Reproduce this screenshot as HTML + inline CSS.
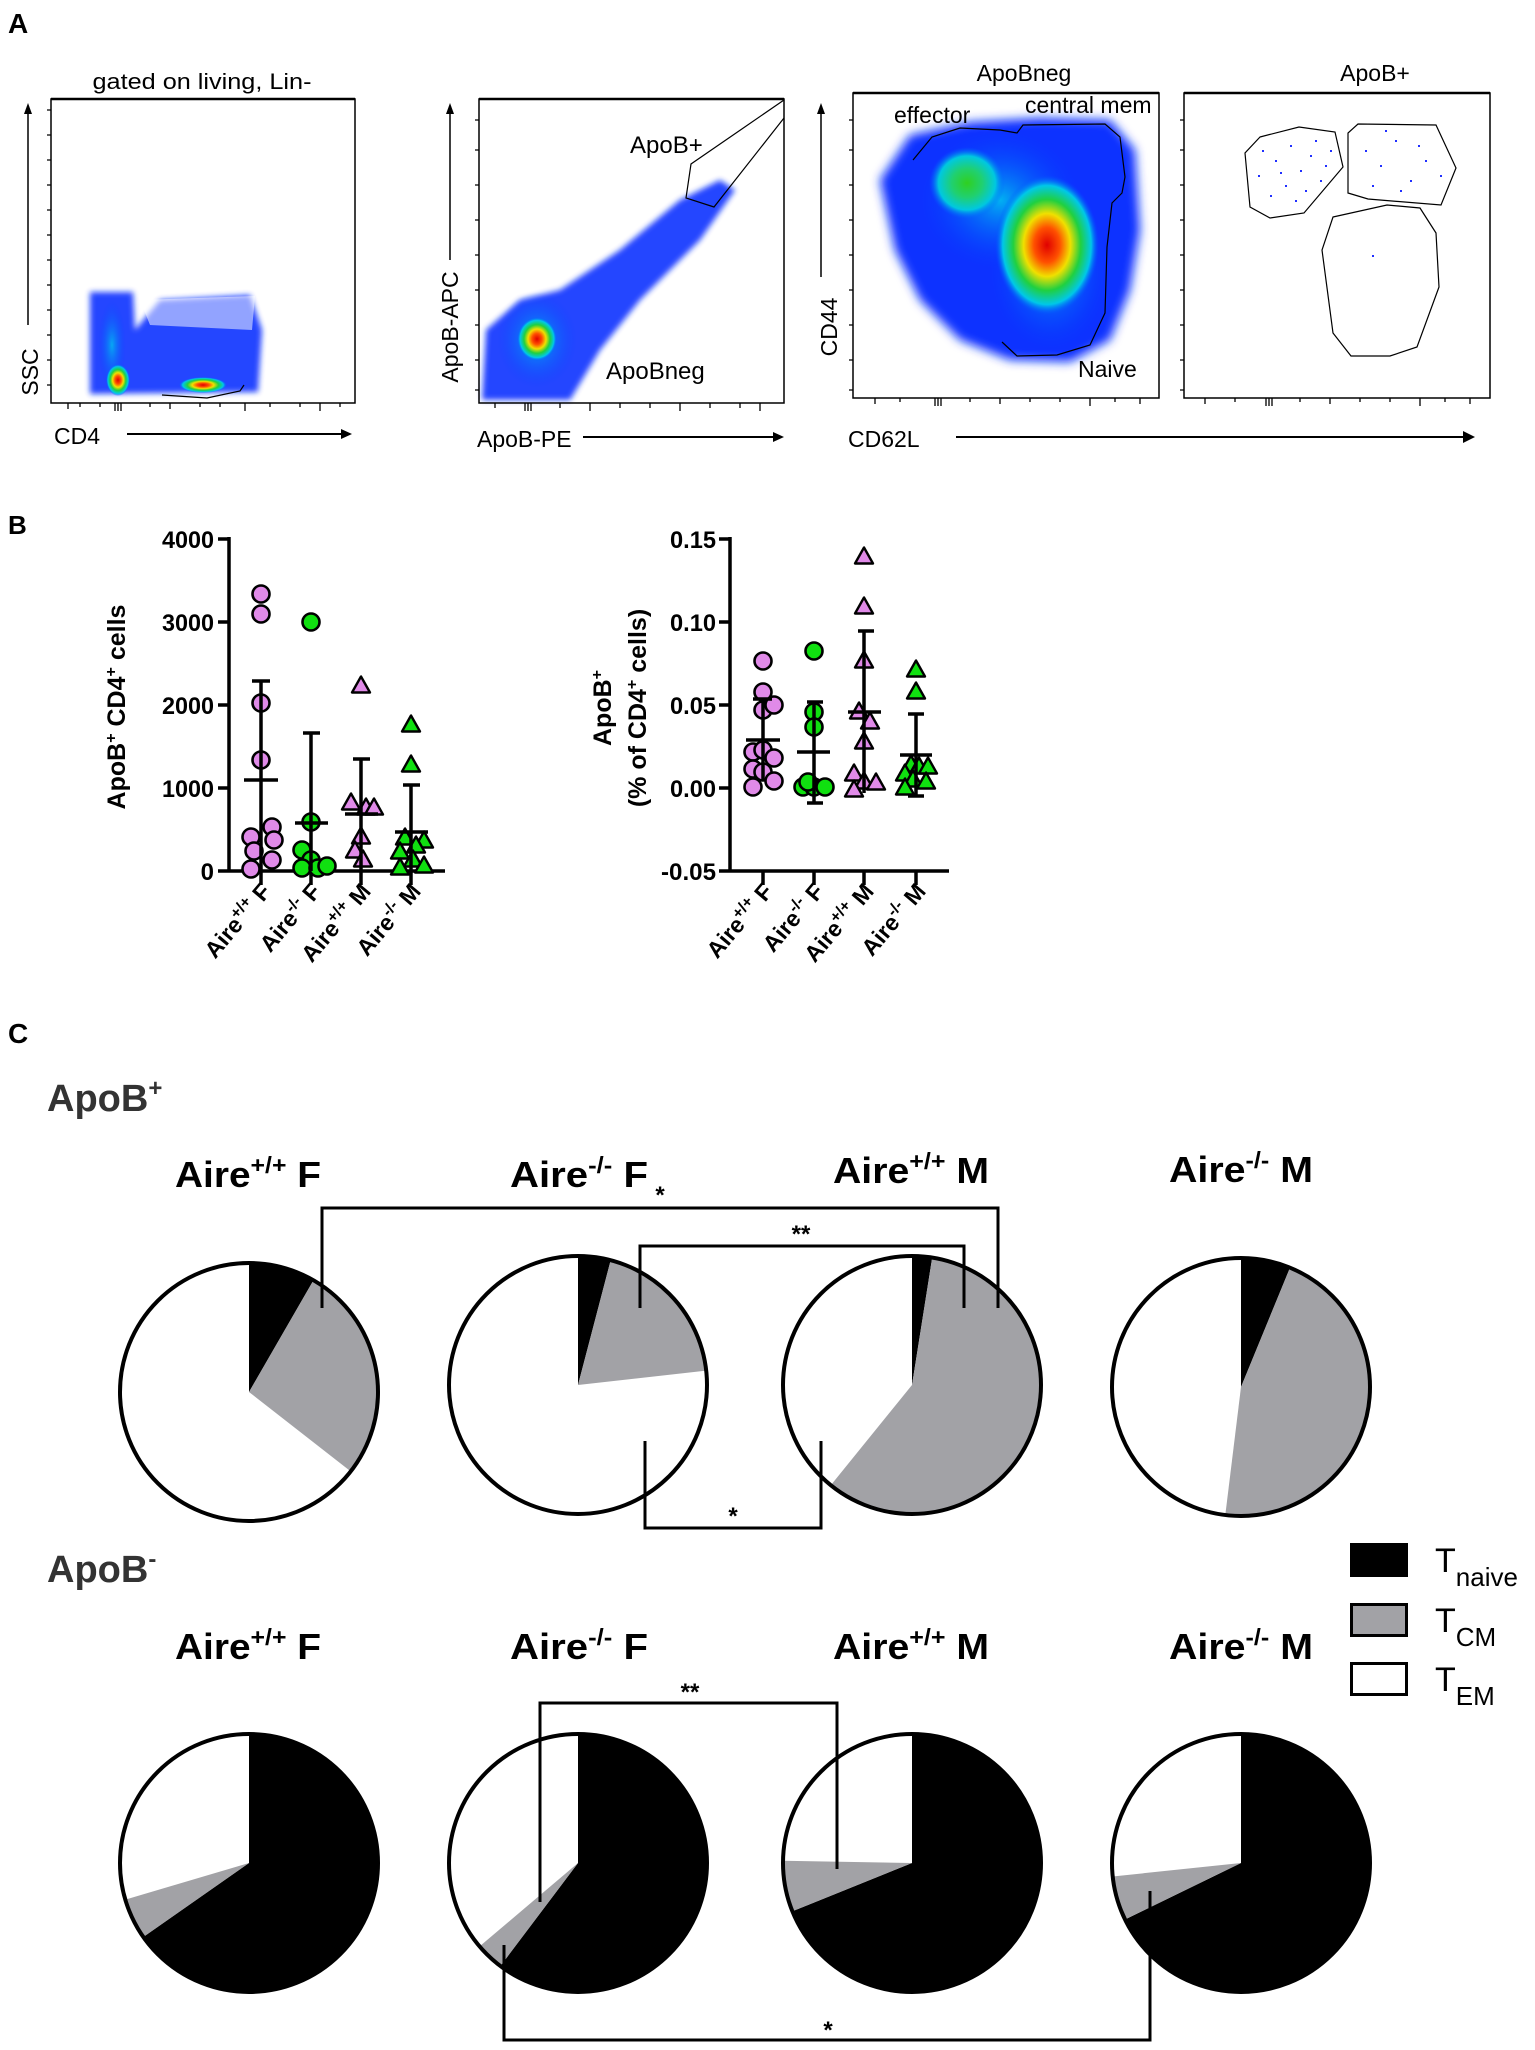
<!DOCTYPE html>
<html><head><meta charset="utf-8"><style>
html,body{margin:0;padding:0;background:#fff}
svg{display:block}
text{font-family:"Liberation Sans",Arial,sans-serif}
</style></head><body>
<svg width="1535" height="2050" viewBox="0 0 1535 2050" xmlns="http://www.w3.org/2000/svg">
<defs>
<filter id="b1" x="-30%" y="-30%" width="160%" height="160%"><feGaussianBlur stdDeviation="5"/></filter>
<filter id="b3" x="-50%" y="-50%" width="200%" height="200%"><feGaussianBlur stdDeviation="3"/></filter>
<radialGradient id="hot"><stop offset="0" stop-color="#e00000"/><stop offset="0.25" stop-color="#ff5000"/><stop offset="0.45" stop-color="#f0e000"/><stop offset="0.65" stop-color="#20d040"/><stop offset="0.85" stop-color="#00c8e8"/><stop offset="1" stop-color="#0050ff" stop-opacity="0"/></radialGradient>
<radialGradient id="grn"><stop offset="0" stop-color="#30d020"/><stop offset="0.4" stop-color="#20d070"/><stop offset="0.75" stop-color="#00c8e0"/><stop offset="1" stop-color="#0060ff" stop-opacity="0"/></radialGradient>
<radialGradient id="cy"><stop offset="0" stop-color="#00c0f0"/><stop offset="1" stop-color="#0040ff" stop-opacity="0"/></radialGradient>
<circle id="pc" r="8.5" fill="#e08ae8" stroke="#000" stroke-width="2.6"/>
<circle id="gc" r="8.5" fill="#10e010" stroke="#000" stroke-width="2.6"/>
<polygon id="pt" points="0,-9.5 -9,6.5 9,6.5" fill="#e08ae8" stroke="#000" stroke-width="2.4" stroke-linejoin="round"/>
<polygon id="gt" points="0,-9.5 -9,6.5 9,6.5" fill="#10e010" stroke="#000" stroke-width="2.4" stroke-linejoin="round"/>
</defs>

<!-- ========== PANEL A ========== -->
<text x="8" y="33" font-size="28" font-weight="bold">A</text>

<!-- Plot 1 -->
<text x="202" y="89" font-size="22" text-anchor="middle" textLength="219" lengthAdjust="spacingAndGlyphs">gated on living, Lin-</text>
<g>
<path d="M90,292 L133,292 L135,330 L160,300 L250,295 L262,330 L258,392 L90,394 Z" fill="#1030ff" filter="url(#b3)" opacity="0.9"/>
<path d="M140,300 L255,296 L252,330 L150,325 Z" fill="#fff" opacity="0.5"/>
<ellipse cx="112" cy="345" rx="14" ry="45" fill="url(#cy)" opacity="0.8"/>
<ellipse cx="118" cy="380" rx="12" ry="16" fill="url(#hot)"/>
<ellipse cx="203" cy="385" rx="24" ry="8" fill="url(#hot)"/>
<path d="M162,395 L207,398 L240,391 L244,385" fill="none" stroke="#000" stroke-width="1.2"/>
</g>
<rect x="51" y="99" width="304" height="304" fill="none" stroke="#000" stroke-width="1.5"/>
<line x1="51" y1="99" x2="355" y2="99" stroke="#000" stroke-width="2.5"/>
<text transform="translate(38,372) rotate(-90)" font-size="23" text-anchor="middle">SSC</text>
<line x1="28" y1="325" x2="28" y2="112" stroke="#000" stroke-width="1.5"/><polygon points="28,103 24,114 32,114" fill="#000"/>
<text x="54" y="444" font-size="23">CD4</text>
<line x1="127" y1="434" x2="343" y2="434" stroke="#000" stroke-width="2"/><polygon points="352,434 341,429 341,439" fill="#000"/>

<!-- Plot 2 -->
<g>
<path d="M482,400 L486,330 L520,300 L560,290 L620,250 L680,200 L720,180 L735,190 L700,240 L640,300 L600,350 L570,400 Z" fill="#1030ff" filter="url(#b3)" opacity="0.9"/>
<ellipse cx="537" cy="340" rx="40" ry="48" fill="url(#cy)" opacity="0.9"/>
<ellipse cx="537" cy="339" rx="20" ry="22" fill="url(#hot)"/>
<path d="M784,100 L691,164 L686,198 L714,207 L784,118" fill="none" stroke="#000" stroke-width="1.2"/>
</g>
<rect x="479" y="99" width="305" height="304" fill="none" stroke="#000" stroke-width="1.5"/>
<line x1="479" y1="99" x2="784" y2="99" stroke="#000" stroke-width="2.5"/>
<text x="630" y="153" font-size="24">ApoB+</text>
<text x="606" y="379" font-size="24">ApoBneg</text>
<text transform="translate(458,327) rotate(-90)" font-size="23" text-anchor="middle">ApoB-APC</text>
<line x1="450" y1="260" x2="450" y2="112" stroke="#000" stroke-width="1.5"/><polygon points="450,103 446,114 454,114" fill="#000"/>
<text x="477" y="447" font-size="23">ApoB-PE</text>
<line x1="583" y1="437" x2="775" y2="437" stroke="#000" stroke-width="2"/><polygon points="784,437 773,432 773,442" fill="#000"/>

<!-- Plot 3 -->
<text x="1024" y="81" font-size="23" text-anchor="middle">ApoBneg</text>
<g>
<path d="M880,180 L910,135 L970,122 L1040,118 L1110,120 L1135,150 L1140,230 L1130,290 L1110,340 L1070,362 L1010,360 L960,340 L920,300 L895,250 Z" fill="#1030ff" filter="url(#b1)"/>
<ellipse cx="1000" cy="200" rx="80" ry="70" fill="url(#cy)" opacity="0.9"/>
<ellipse cx="1050" cy="270" rx="60" ry="80" fill="url(#cy)" opacity="0.9"/>
<ellipse cx="967" cy="183" rx="38" ry="36" fill="url(#grn)"/>
<ellipse cx="1047" cy="245" rx="52" ry="70" fill="url(#hot)"/>
<path d="M913,160 L932,137 L960,128 L1000,130 L1017,133 L1023,125 L1105,124 L1120,137 L1125,177 L1122,193 L1112,203 L1107,247 L1105,313 L1090,345 L1057,355 L1017,356 L1002,342" fill="none" stroke="#000" stroke-width="1.2"/>
</g>
<rect x="853" y="93" width="306" height="305" fill="none" stroke="#000" stroke-width="1.5"/>
<line x1="853" y1="93" x2="1159" y2="93" stroke="#000" stroke-width="2.5"/>
<text x="894" y="123" font-size="23">effector</text>
<text x="1025" y="113" font-size="23">central mem</text>
<text x="1078" y="377" font-size="23">Naive</text>
<text transform="translate(837,327) rotate(-90)" font-size="23" text-anchor="middle">CD44</text>
<line x1="821" y1="277" x2="821" y2="112" stroke="#000" stroke-width="1.5"/><polygon points="821,103 817,114 825,114" fill="#000"/>
<text x="848" y="447" font-size="23">CD62L</text>
<line x1="956" y1="437" x2="1465" y2="437" stroke="#000" stroke-width="2"/><polygon points="1475,437 1463,431 1463,443" fill="#000"/>

<!-- Plot 4 -->
<text x="1375" y="81" font-size="23" text-anchor="middle">ApoB+</text>
<g fill="none" stroke="#000" stroke-width="1.2">
<path d="M1260,137 L1299,127 L1335,132 L1343,167 L1304,213 L1270,218 L1250,207 L1245,153 Z"/>
<path d="M1358,124 L1436,125 L1456,168 L1441,205 L1368,199 L1348,193 L1348,133 Z"/>
<path d="M1333,217 L1387,205 L1420,208 L1436,233 L1439,287 L1417,347 L1390,356 L1351,356 L1333,333 L1322,250 Z"/>
</g>
<g fill="#2030ff">
<rect x="1262" y="150" width="2" height="2"/><rect x="1275" y="160" width="2" height="2"/><rect x="1290" y="145" width="2" height="2"/><rect x="1300" y="170" width="2" height="2"/><rect x="1310" y="155" width="2" height="2"/><rect x="1320" y="180" width="2" height="2"/><rect x="1285" y="185" width="2" height="2"/><rect x="1270" y="195" width="2" height="2"/><rect x="1330" y="150" width="2" height="2"/><rect x="1295" y="200" width="2" height="2"/><rect x="1315" y="140" width="2" height="2"/><rect x="1280" y="172" width="2" height="2"/><rect x="1305" y="190" width="2" height="2"/><rect x="1325" y="165" width="2" height="2"/><rect x="1258" y="175" width="2" height="2"/>
<rect x="1365" y="150" width="2" height="2"/><rect x="1380" y="165" width="2" height="2"/><rect x="1395" y="140" width="2" height="2"/><rect x="1410" y="180" width="2" height="2"/><rect x="1425" y="160" width="2" height="2"/><rect x="1372" y="185" width="2" height="2"/><rect x="1440" y="175" width="2" height="2"/><rect x="1400" y="190" width="2" height="2"/><rect x="1418" y="145" width="2" height="2"/><rect x="1385" y="130" width="2" height="2"/>
<rect x="1372" y="255" width="2" height="2"/>
</g>
<rect x="1184" y="93" width="306" height="305" fill="none" stroke="#000" stroke-width="1.5"/>
<line x1="1184" y1="93" x2="1490" y2="93" stroke="#000" stroke-width="2.5"/>

<g stroke="#000" stroke-width="1.3">
<path d="M51,110h-4M51,135h-4M51,160h-4M51,185h-4M51,210h-4M51,235h-4M51,260h-4M51,285h-4M51,310h-4M51,335h-4M51,360h-4M51,385h-4"/>
<path d="M68,403v6M80,403v4M100,403v4M115,403v8M118,403v8M121,403v8M150,403v4M170,403v6M200,403v4M220,403v4M245,403v8M270,403v4M300,403v4M320,403v8M340,403v4"/>
<path d="M479,120h-4M479,150h-4M479,185h-4M479,220h-4M479,255h-4M479,290h-4M479,325h-4M479,360h-4M479,390h-4"/>
<path d="M495,403v5M525,403v8M528,403v8M531,403v8M560,403v5M590,403v8M620,403v5M650,403v5M680,403v8M710,403v5M740,403v5M760,403v8"/>
<path d="M853,120h-4M853,150h-4M853,185h-4M853,220h-4M853,255h-4M853,290h-4M853,325h-4M853,360h-4M853,390h-4"/>
<path d="M875,398v6M900,398v4M935,398v8M938,398v8M941,398v8M970,398v4M1000,398v6M1030,398v4M1060,398v4M1090,398v8M1115,398v4M1140,398v6"/>
<path d="M1184,120h-4M1184,150h-4M1184,185h-4M1184,220h-4M1184,255h-4M1184,290h-4M1184,325h-4M1184,360h-4M1184,390h-4"/>
<path d="M1205,398v6M1235,398v4M1266,398v8M1269,398v8M1272,398v8M1300,398v4M1330,398v6M1360,398v4M1390,398v4M1420,398v8M1445,398v4M1470,398v6"/>
</g>

<!-- ========== PANEL B ========== -->
<text x="8" y="534" font-size="26" font-weight="bold">B</text>

<g stroke="#000" stroke-width="3.5" fill="none">
<line x1="229" y1="537" x2="229" y2="871"/>
<line x1="229" y1="871" x2="445" y2="871"/>
<path d="M218,539h11M218,622h11M218,705h11M218,788h11M218,871h11"/>
<path d="M261,871v14M311,871v14M361,871v14M411,871v14"/>
</g>
<g font-size="24" font-weight="bold" text-anchor="end">
<text x="214" y="548" textLength="52" lengthAdjust="spacingAndGlyphs">4000</text><text x="214" y="631" textLength="52" lengthAdjust="spacingAndGlyphs">3000</text><text x="214" y="714" textLength="52" lengthAdjust="spacingAndGlyphs">2000</text><text x="214" y="797" textLength="52" lengthAdjust="spacingAndGlyphs">1000</text><text x="214" y="880">0</text>
</g>
<text transform="translate(125,707) rotate(-90)" font-size="25" font-weight="bold" text-anchor="middle">ApoB<tspan dy="-9" font-size="16">+</tspan><tspan dy="9"> CD4</tspan><tspan dy="-9" font-size="16">+</tspan><tspan dy="9"> cells</tspan></text>
<g>
<use href="#pc" x="261" y="594"/><use href="#pc" x="261" y="614"/><use href="#pc" x="261" y="703"/><use href="#pc" x="261" y="760"/><use href="#pc" x="272" y="827"/><use href="#pc" x="251" y="837"/><use href="#pc" x="274" y="840"/><use href="#pc" x="254" y="851"/><use href="#pc" x="272" y="860"/><use href="#pc" x="251" y="869"/>
<use href="#gc" x="311" y="622"/><use href="#gc" x="311" y="822"/><use href="#gc" x="302" y="850"/><use href="#gc" x="311" y="860"/><use href="#gc" x="302" y="868"/><use href="#gc" x="318" y="868"/><use href="#gc" x="327" y="866"/>
<use href="#pt" x="361" y="686"/><use href="#pt" x="351" y="803"/><use href="#pt" x="366" y="808"/><use href="#pt" x="374" y="808"/><use href="#pt" x="361" y="837"/><use href="#pt" x="355" y="851"/><use href="#pt" x="363" y="860"/>
<use href="#gt" x="411" y="725"/><use href="#gt" x="411" y="765"/><use href="#gt" x="405" y="838"/><use href="#gt" x="424" y="841"/><use href="#gt" x="416" y="846"/><use href="#gt" x="400" y="852"/><use href="#gt" x="413" y="860"/><use href="#gt" x="424" y="866"/><use href="#gt" x="400" y="868"/>
</g>
<g stroke="#000" stroke-width="3.5" fill="none">
<path d="M261,681V871M244,780h34M252,681h18"/>
<path d="M311,733V871M295,823h33M303,733h17"/>
<path d="M361,759V871M345,814h33M353,759h17"/>
<path d="M411,785V871M395,832h33M403,785h17"/>
</g>
<g font-size="23" font-weight="bold" text-anchor="end">
<text transform="translate(272,892) rotate(-50)">Aire<tspan dy="-9" font-size="16">+/+</tspan><tspan dy="9"> F</tspan></text>
<text transform="translate(322,892) rotate(-50)">Aire<tspan dy="-9" font-size="16">-/-</tspan><tspan dy="9"> F</tspan></text>
<text transform="translate(372,892) rotate(-50)">Aire<tspan dy="-9" font-size="16">+/+</tspan><tspan dy="9"> M</tspan></text>
<text transform="translate(422,892) rotate(-50)">Aire<tspan dy="-9" font-size="16">-/-</tspan><tspan dy="9"> M</tspan></text>
</g>

<g stroke="#000" stroke-width="3.5" fill="none">
<line x1="730" y1="537" x2="730" y2="871"/>
<line x1="730" y1="871" x2="949" y2="871"/>
<path d="M719,539h11M719,622h11M719,705h11M719,788h11M719,871h11"/>
<path d="M763,871v14M814,871v14M864,871v14M916,871v14"/>
</g>
<g font-size="24" font-weight="bold" text-anchor="end">
<text x="716" y="548" textLength="46" lengthAdjust="spacingAndGlyphs">0.15</text><text x="716" y="631" textLength="46" lengthAdjust="spacingAndGlyphs">0.10</text><text x="716" y="714" textLength="46" lengthAdjust="spacingAndGlyphs">0.05</text><text x="716" y="797" textLength="46" lengthAdjust="spacingAndGlyphs">0.00</text><text x="716" y="880" textLength="55" lengthAdjust="spacingAndGlyphs">-0.05</text>
</g>
<text transform="translate(611,708) rotate(-90)" font-size="25" font-weight="bold" text-anchor="middle">ApoB<tspan dy="-9" font-size="16">+</tspan></text>
<text transform="translate(646,708) rotate(-90)" font-size="25" font-weight="bold" text-anchor="middle">(% of CD4<tspan dy="-9" font-size="16">+</tspan><tspan dy="9"> cells)</tspan></text>
<g>
<use href="#pc" x="763" y="661"/><use href="#pc" x="763" y="692"/><use href="#pc" x="763" y="710"/><use href="#pc" x="774" y="705"/><use href="#pc" x="753" y="752"/><use href="#pc" x="763" y="750"/><use href="#pc" x="774" y="758"/><use href="#pc" x="753" y="769"/><use href="#pc" x="763" y="772"/><use href="#pc" x="774" y="781"/><use href="#pc" x="753" y="787"/>
<use href="#gc" x="814" y="651"/><use href="#gc" x="814" y="712"/><use href="#gc" x="814" y="727"/><use href="#gc" x="803" y="787"/><use href="#gc" x="814" y="787"/><use href="#gc" x="825" y="787"/><use href="#gc" x="808" y="782"/>
<use href="#pt" x="864" y="557"/><use href="#pt" x="864" y="607"/><use href="#pt" x="864" y="661"/><use href="#pt" x="859" y="712"/><use href="#pt" x="870" y="722"/><use href="#pt" x="864" y="742"/><use href="#pt" x="854" y="774"/><use href="#pt" x="864" y="782"/><use href="#pt" x="876" y="783"/><use href="#pt" x="854" y="790"/>
<use href="#gt" x="916" y="670"/><use href="#gt" x="916" y="692"/><use href="#gt" x="911" y="765"/><use href="#gt" x="919" y="767"/><use href="#gt" x="928" y="767"/><use href="#gt" x="905" y="774"/><use href="#gt" x="913" y="780"/><use href="#gt" x="926" y="782"/><use href="#gt" x="905" y="788"/>
</g>
<g stroke="#000" stroke-width="3.5" fill="none">
<path d="M763,699V781M746,740h34M753,699h19"/>
<path d="M814,702V803M797,752h33M807,702h16M807,803h16"/>
<path d="M864,631V793M848,712h33M858,631h16"/>
<path d="M916,714V796M900,755h32M908,714h16M908,796h16"/>
</g>
<g font-size="23" font-weight="bold" text-anchor="end">
<text transform="translate(774,892) rotate(-50)">Aire<tspan dy="-9" font-size="16">+/+</tspan><tspan dy="9"> F</tspan></text>
<text transform="translate(825,892) rotate(-50)">Aire<tspan dy="-9" font-size="16">-/-</tspan><tspan dy="9"> F</tspan></text>
<text transform="translate(875,892) rotate(-50)">Aire<tspan dy="-9" font-size="16">+/+</tspan><tspan dy="9"> M</tspan></text>
<text transform="translate(927,892) rotate(-50)">Aire<tspan dy="-9" font-size="16">-/-</tspan><tspan dy="9"> M</tspan></text>
</g>

<!-- ========== PANEL C ========== -->
<text x="8" y="1043" font-size="28" font-weight="bold">C</text>
<text x="47" y="1111" font-size="38" font-weight="bold" fill="#333">ApoB<tspan dy="-15" font-size="24">+</tspan></text>
<text x="47" y="1582" font-size="38" font-weight="bold" fill="#333">ApoB<tspan dy="-15" font-size="24">-</tspan></text>

<g font-size="36" font-weight="bold">
<text x="175" y="1187" textLength="146" lengthAdjust="spacingAndGlyphs">Aire<tspan dy="-14" font-size="23">+/+</tspan><tspan dy="14"> F</tspan></text>
<text x="510" y="1187" textLength="138" lengthAdjust="spacingAndGlyphs">Aire<tspan dy="-14" font-size="23">-/-</tspan><tspan dy="14"> F</tspan></text>
<text x="833" y="1183" textLength="156" lengthAdjust="spacingAndGlyphs">Aire<tspan dy="-14" font-size="23">+/+</tspan><tspan dy="14"> M</tspan></text>
<text x="1169" y="1182" textLength="144" lengthAdjust="spacingAndGlyphs">Aire<tspan dy="-14" font-size="23">-/-</tspan><tspan dy="14"> M</tspan></text>
<text x="175" y="1659" textLength="146" lengthAdjust="spacingAndGlyphs">Aire<tspan dy="-14" font-size="23">+/+</tspan><tspan dy="14"> F</tspan></text>
<text x="510" y="1659" textLength="138" lengthAdjust="spacingAndGlyphs">Aire<tspan dy="-14" font-size="23">-/-</tspan><tspan dy="14"> F</tspan></text>
<text x="833" y="1659" textLength="156" lengthAdjust="spacingAndGlyphs">Aire<tspan dy="-14" font-size="23">+/+</tspan><tspan dy="14"> M</tspan></text>
<text x="1169" y="1659" textLength="144" lengthAdjust="spacingAndGlyphs">Aire<tspan dy="-14" font-size="23">-/-</tspan><tspan dy="14"> M</tspan></text>
</g>

<g>
<circle cx="249" cy="1392" r="129" fill="#fff"/>
<path d="M249,1392 L249,1263 A129,129 0 0 1 313.5,1280.3 Z" fill="#000"/>
<path d="M249,1392 L313.5,1280.3 A129,129 0 0 1 350.7,1471.4 Z" fill="#a2a2a6"/>
<circle cx="249" cy="1392" r="129" fill="none" stroke="#000" stroke-width="4"/>

<circle cx="578" cy="1385" r="129" fill="#fff"/>
<path d="M578,1385 L578,1256 A129,129 0 0 1 610.7,1260.2 Z" fill="#000"/>
<path d="M578,1385 L610.7,1260.2 A129,129 0 0 1 706.2,1370.6 Z" fill="#a2a2a6"/>
<circle cx="578" cy="1385" r="129" fill="none" stroke="#000" stroke-width="4"/>

<circle cx="912" cy="1385" r="129" fill="#fff"/>
<path d="M912,1385 L912,1256 A129,129 0 0 1 932.2,1257.6 Z" fill="#000"/>
<path d="M912,1385 L932.2,1257.6 A129,129 0 1 1 830.8,1485.3 Z" fill="#a2a2a6"/>
<circle cx="912" cy="1385" r="129" fill="none" stroke="#000" stroke-width="4"/>

<circle cx="1241" cy="1387" r="129" fill="#fff"/>
<path d="M1241,1387 L1241,1258 A129,129 0 0 1 1290,1267.7 Z" fill="#000"/>
<path d="M1241,1387 L1290,1267.7 A129,129 0 0 1 1225.3,1515 Z" fill="#a2a2a6"/>
<circle cx="1241" cy="1387" r="129" fill="none" stroke="#000" stroke-width="4"/>
</g>

<g>
<circle cx="249" cy="1863" r="129" fill="#fff"/>
<path d="M249,1863 L249,1734 A129,129 0 1 1 143.3,1937 Z" fill="#000"/>
<path d="M249,1863 L143.3,1937 A129,129 0 0 1 125.3,1899.6 Z" fill="#a2a2a6"/>
<circle cx="249" cy="1863" r="129" fill="none" stroke="#000" stroke-width="4"/>

<circle cx="578" cy="1863" r="129" fill="#fff"/>
<path d="M578,1863 L578,1734 A129,129 0 1 1 500.4,1966 Z" fill="#000"/>
<path d="M578,1863 L500.4,1966 A129,129 0 0 1 479.6,1946.4 Z" fill="#a2a2a6"/>
<circle cx="578" cy="1863" r="129" fill="none" stroke="#000" stroke-width="4"/>

<circle cx="912" cy="1863" r="129" fill="#fff"/>
<path d="M912,1863 L912,1734 A129,129 0 1 1 792.4,1911.3 Z" fill="#000"/>
<path d="M912,1863 L792.4,1911.3 A129,129 0 0 1 783,1860.7 Z" fill="#a2a2a6"/>
<circle cx="912" cy="1863" r="129" fill="none" stroke="#000" stroke-width="4"/>

<circle cx="1241" cy="1863" r="129" fill="#fff"/>
<path d="M1241,1863 L1241,1734 A129,129 0 1 1 1125,1919.5 Z" fill="#000"/>
<path d="M1241,1863 L1125,1919.5 A129,129 0 0 1 1112.7,1876.5 Z" fill="#a2a2a6"/>
<circle cx="1241" cy="1863" r="129" fill="none" stroke="#000" stroke-width="4"/>
</g>

<g stroke="#000" stroke-width="3" fill="none">
<path d="M322,1308V1208H998V1308"/>
<path d="M640,1308V1246H964V1308"/>
<path d="M645,1441V1528H821V1441"/>
<path d="M540,1902V1703H837V1869"/>
<path d="M504,1945V2040H1150V1891"/>
</g>
<g font-size="24" font-weight="bold" text-anchor="middle">
<text x="660" y="1203">*</text>
<text x="801" y="1242">**</text>
<text x="733" y="1524">*</text>
<text x="690" y="1700">**</text>
<text x="828" y="2038">*</text>
</g>

<rect x="1351.5" y="1544.5" width="55" height="31" fill="#000" stroke="#000" stroke-width="3"/>
<rect x="1351.5" y="1604.5" width="55" height="31" fill="#a2a2a6" stroke="#000" stroke-width="3"/>
<rect x="1351.5" y="1663.5" width="55" height="31" fill="#fff" stroke="#000" stroke-width="3"/>
<g font-size="34">
<text x="1435" y="1572">T<tspan dy="14" font-size="26">naive</tspan></text>
<text x="1435" y="1632">T<tspan dy="14" font-size="26">CM</tspan></text>
<text x="1435" y="1691">T<tspan dy="14" font-size="26">EM</tspan></text>
</g>
</svg>
</body></html>
